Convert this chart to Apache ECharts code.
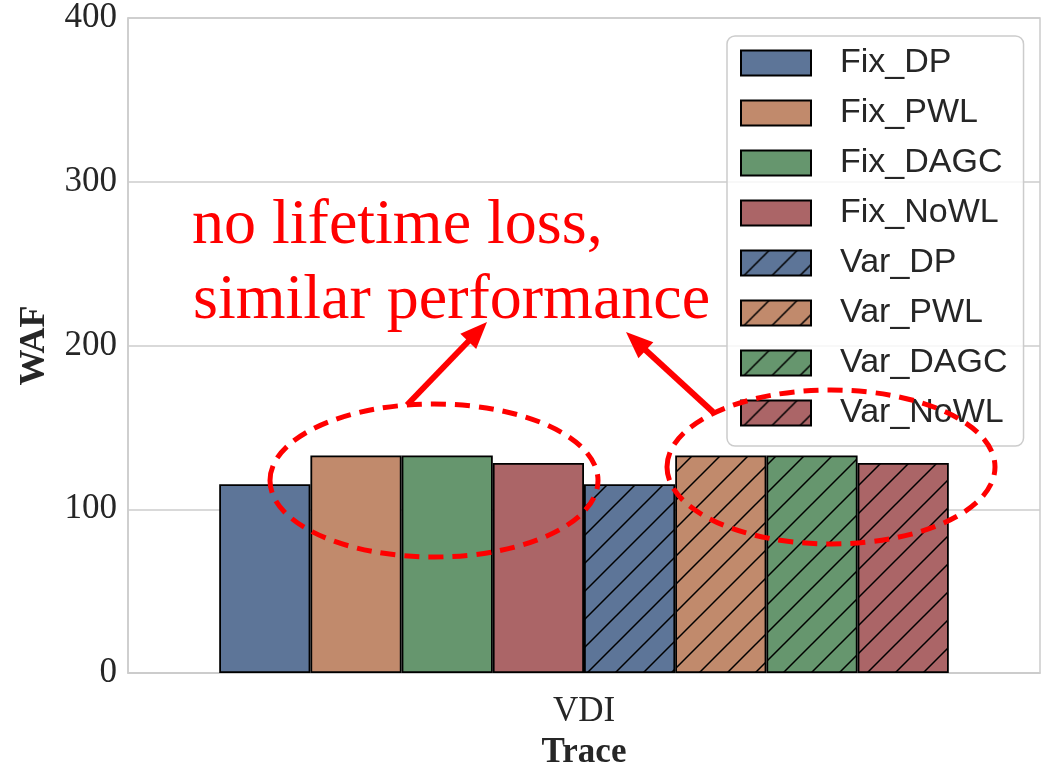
<!DOCTYPE html>
<html>
<head>
<meta charset="utf-8">
<script src="https://cdn.jsdelivr.net/npm/echarts@6/dist/echarts.min.js"></script>
<style>
  html, body { margin: 0; padding: 0; background: #ffffff; }
  #chart { width: 1042px; height: 768px; }
</style>
</head>
<body>
<div id="chart"></div>
<script>
// WAF per allocation scheme on the VDI trace
const categories = ['VDI'];
const fixNames = ['Fix_DP', 'Fix_PWL', 'Fix_DAGC', 'Fix_NoWL'];
const varNames = ['Var_DP', 'Var_PWL', 'Var_DAGC', 'Var_NoWL'];
const fixValues = [115.3, 132.8, 132.8, 128.3];
const varValues = [115.3, 132.8, 132.8, 128.3];
const yTicks = [0, 100, 200, 300, 400];
const palette = ['#5d7598', '#c18a6c', '#66966e', '#ab6567'];
const noteLines = ['no lifetime loss,', 'similar performance'];

// diagonal "/" hatch tile over a solid fill
function hatch(color) {
  const s = 28;
  const c = document.createElement('canvas');
  c.width = s; c.height = s;
  const g = c.getContext('2d');
  g.fillStyle = color;
  g.fillRect(0, 0, s, s);
  g.strokeStyle = '#000000';
  g.lineWidth = 1.5;
  g.beginPath();
  g.moveTo(-3, s + 3); g.lineTo(s + 3, -3);
  g.moveTo(-3, 3); g.lineTo(3, -3);
  g.moveTo(s - 3, s + 3); g.lineTo(s + 3, s - 3);
  g.stroke();
  return { image: c, repeat: 'repeat' };
}

const series = [];
fixNames.forEach((name, i) => {
  series.push({
    name, type: 'bar', barGap: '0%', barCategoryGap: '20%',
    data: [fixValues[i]],
    itemStyle: { color: palette[i], borderColor: '#000000', borderWidth: 1.8 },
    emphasis: { disabled: true }
  });
});
varNames.forEach((name, i) => {
  series.push({
    name, type: 'bar', barGap: '0%', barCategoryGap: '20%',
    data: [varValues[i]],
    itemStyle: { color: hatch(palette[i]), borderColor: '#000000', borderWidth: 1.8 },
    emphasis: { disabled: true }
  });
});

// arrow = shaft + filled head
function arrow(x1, y1, x2, y2) {
  const len = 27, half = 11;
  const dx = x2 - x1, dy = y2 - y1;
  const d = Math.sqrt(dx * dx + dy * dy);
  const ux = dx / d, uy = dy / d;
  const bx = x2 - ux * len, by = y2 - uy * len;
  return [
    { type: 'line', z: 100, shape: { x1, y1, x2: bx + ux * 2, y2: by + uy * 2 },
      style: { stroke: '#ff0000', lineWidth: 6 } },
    { type: 'polygon', z: 100,
      shape: { points: [[x2, y2], [bx - uy * half, by + ux * half], [bx + uy * half, by - ux * half]] },
      style: { fill: '#ff0000' } }
  ];
}

function dashedEllipse(cx, cy, rx, ry) {
  return { type: 'ellipse', z: 100, shape: { cx, cy, rx, ry },
    style: { fill: null, stroke: '#ff0000', lineWidth: 5, lineDash: [15, 9] } };
}

const annotations = [
  dashedEllipse(434, 480.5, 164, 76.5),
  dashedEllipse(831, 467, 164, 77),
  ...arrow(407, 405, 487, 322),
  ...arrow(713, 412, 626, 332),
  { type: 'text', z: 100, left: 192, top: 194,
    style: { text: noteLines[0], fill: '#ff0000', font: '64px "Liberation Serif", serif' } },
  { type: 'text', z: 100, left: 193, top: 269,
    style: { text: noteLines[1], fill: '#ff0000', font: '64px "Liberation Serif", serif' } }
];

const chart = echarts.init(document.getElementById('chart'), null, { renderer: 'canvas' });
chart.setOption({
  animation: false,
  backgroundColor: '#ffffff',
  grid: { left: 128, right: 2, top: 18, bottom: 95, show: true,
          outerBoundsMode: 'none', containLabel: false,
          borderColor: '#cccccc', borderWidth: 1.5, backgroundColor: 'transparent' },
  legend: {
    orient: 'vertical', left: 727, top: 36,
    itemWidth: 70, itemHeight: 25, itemGap: 16,
    icon: 'rect',
    padding: [10, 16, 16, 13],
    backgroundColor: 'rgba(255,255,255,0.8)',
    borderColor: '#cccccc', borderWidth: 1.5, borderRadius: 8,
    textStyle: { fontFamily: '"Liberation Sans", Arial, sans-serif', fontSize: 34,
                 color: '#262626', lineHeight: 30, padding: [0, 0, 0, 24] },
    data: fixNames.concat(varNames),
    selectedMode: false
  },
  xAxis: {
    type: 'category', data: categories,
    name: 'Trace', nameLocation: 'middle', nameGap: 62,
    nameTextStyle: { fontFamily: '"Liberation Serif", serif', fontWeight: 'bold', fontSize: 35, color: '#262626' },
    axisLine: { lineStyle: { color: '#cccccc', width: 1.5 } },
    axisTick: { show: false },
    axisLabel: { fontFamily: '"Liberation Serif", serif', fontSize: 35, color: '#262626', margin: 21 }
  },
  yAxis: {
    type: 'value', min: yTicks[0], max: yTicks[yTicks.length - 1], interval: 100,
    name: 'WAF', nameLocation: 'middle', nameGap: 75, nameRotate: 90,
    nameTextStyle: { fontFamily: '"Liberation Serif", serif', fontWeight: 'bold', fontSize: 36, color: '#262626' },
    axisLine: { show: true, lineStyle: { color: '#cccccc', width: 1.5 } },
    axisTick: { show: false },
    splitLine: { lineStyle: { color: '#cccccc', width: 1.5 } },
    axisLabel: { fontFamily: '"Liberation Serif", serif', fontSize: 35, color: '#262626', margin: 11 }
  },
  series,
  graphic: annotations
});
</script>
</body>
</html>
